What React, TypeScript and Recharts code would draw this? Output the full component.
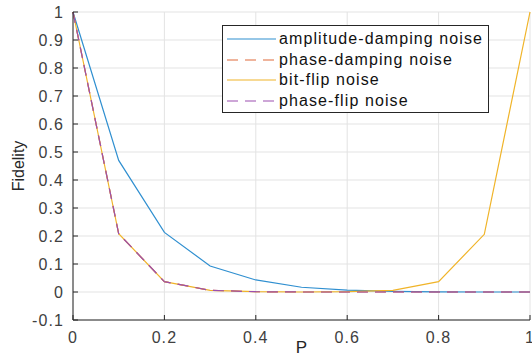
import React from "react";
import {
  LineChart,
  Line,
  XAxis,
  YAxis,
  CartesianGrid,
  Legend,
} from "recharts";

// noise probability
const pValues = [0, 0.1, 0.2, 0.3, 0.4, 0.5, 0.6, 0.7, 0.8, 0.9, 1];

// fidelity per channel
const amplitudeDamping = [1, 0.47, 0.213, 0.093, 0.043, 0.017, 0.007, 0.002, 0.0005, 0, 0];
const phaseDamping = [1, 0.208, 0.037, 0.006, 0.001, 0, 0, 0, 0, 0, 0];
const bitFlip = [1, 0.208, 0.037, 0.006, 0.001, 0, 0.001, 0.006, 0.037, 0.206, 1];
const phaseFlip = [1, 0.208, 0.037, 0.006, 0.001, 0, 0, 0, 0, 0, 0];

const xTicks = [0, 0.2, 0.4, 0.6, 0.8, 1];
const yTicks = [-0.1, 0, 0.1, 0.2, 0.3, 0.4, 0.5, 0.6, 0.7, 0.8, 0.9, 1];

const seriesInfo = [
  { key: "amp", name: "amplitude-damping noise", color: "#2f8fd0", dash: "" },
  { key: "phd", name: "phase-damping noise", color: "#e06a3a", dash: "11 7" },
  { key: "bit", name: "bit-flip noise", color: "#f0b429", dash: "" },
  { key: "phf", name: "phase-flip noise", color: "#9b4fb0", dash: "11 7" },
];

const data = pValues.map((p, i) => ({
  p,
  amp: amplitudeDamping[i],
  phd: phaseDamping[i],
  bit: bitFlip[i],
  phf: phaseFlip[i],
}));

const font = "'Liberation Sans', Arial, sans-serif";
const axisColor = "#262626";
const tickStyle = { fontSize: 16, fill: "#404040", fontFamily: font, letterSpacing: 1.1 };

function LegendBox() {
  return (
    <div
      style={{
        border: "1px solid #262626",
        background: "#fff",
        width: 267,
        height: 88,
        boxSizing: "border-box",
        paddingTop: 3,
      }}
    >
      {seriesInfo.map((s) => (
        <div key={s.key} style={{ display: "flex", alignItems: "center", height: 20.5 }}>
          <svg width={54} height={10} style={{ flexShrink: 0 }}>
            <line
              x1={4}
              x2={53}
              y1={5}
              y2={5}
              stroke={s.color}
              strokeWidth={1.2}
              strokeDasharray={s.dash || undefined}
            />
          </svg>
          <span
            style={{
              fontFamily: font,
              fontSize: 16,
              letterSpacing: 1.1,
              color: "#111",
              marginLeft: 2,
              lineHeight: "20px",
            }}
          >
            {s.name}
          </span>
        </div>
      ))}
    </div>
  );
}

export default function App() {
  return (
    <div style={{ position: "absolute", left: 0, top: 0, background: "#fff" }}>
      <LineChart
        width={532}
        height={357}
        data={data}
        margin={{ top: 12, right: 2, left: 13, bottom: 0 }}
      >
        <CartesianGrid stroke="#e3e3e3" horizontalValues={yTicks} verticalValues={xTicks} />
        <XAxis
          dataKey="p"
          type="number"
          domain={[0, 1]}
          ticks={xTicks}
          interval={0}
          height={37}
          tickSize={-5}
          tickMargin={17}
          stroke={axisColor}
          tick={tickStyle}
          label={{
            value: "P",
            position: "insideBottom",
            offset: 4,
            style: { fontSize: 17, fill: "#262626", fontFamily: font },
          }}
        />
        <XAxis
          xAxisId="top"
          dataKey="p"
          type="number"
          orientation="top"
          domain={[0, 1]}
          ticks={xTicks}
          interval={0}
          height={0}
          tickSize={-5}
          stroke={axisColor}
          tickFormatter={() => ""}
        />
        <YAxis
          type="number"
          domain={[-0.1, 1]}
          ticks={yTicks}
          interval={0}
          width={60}
          tickSize={-5}
          tickMargin={14}
          stroke={axisColor}
          tick={tickStyle}
          label={{
            value: "Fidelity",
            angle: -90,
            position: "insideLeft",
            offset: 5,
            style: { textAnchor: "middle", fontSize: 16, fill: "#262626", fontFamily: font },
          }}
        />
        <YAxis
          yAxisId="right"
          type="number"
          orientation="right"
          domain={[-0.1, 1]}
          ticks={yTicks}
          interval={0}
          width={0}
          tickSize={-5}
          stroke={axisColor}
          tickFormatter={() => ""}
        />
        <Legend
          layout="horizontal"
          verticalAlign="middle"
          align="center"
          content={() => <LegendBox />}
          wrapperStyle={{ left: 222, top: 25, width: 267, height: 88 }}
        />
        {seriesInfo.map((s) => (
          <Line
            key={s.key}
            dataKey={s.key}
            name={s.name}
            stroke={s.color}
            strokeWidth={1.2}
            strokeDasharray={s.dash || undefined}
            dot={false}
            activeDot={false}
            type="linear"
            isAnimationActive={false}
          />
        ))}
      </LineChart>
    </div>
  );
}
